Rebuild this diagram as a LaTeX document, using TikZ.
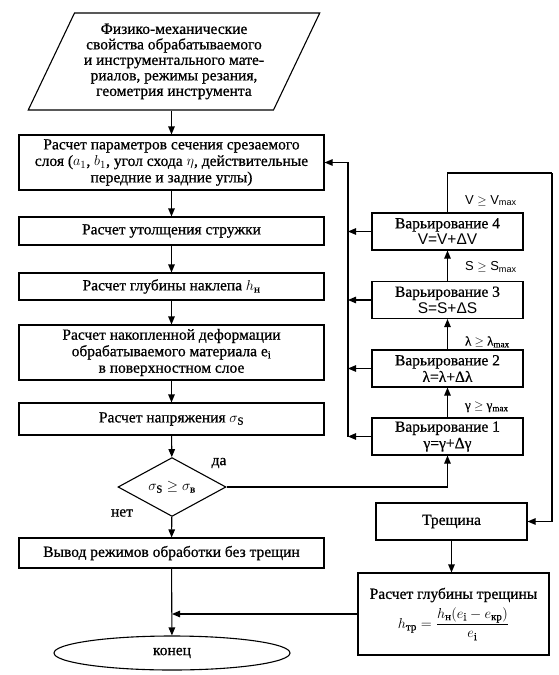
\documentclass[tikz,border=0pt]{standalone}
\usepackage{amsmath}
\usepackage{fontspec}
\setmainfont{Liberation Serif}[FakeBold=0.7]
\newfontfamily\sansf{Liberation Sans}
\usetikzlibrary{shapes.geometric,arrows.meta}

\tikzset{
  line/.style={line width=1.1pt},
  link/.style={line, -{Triangle[length=8pt,width=6.5pt]}},
  block/.style={draw, line, minimum width=305pt, align=center, inner sep=1pt},
  varbox/.style={draw, line, minimum width=151pt, minimum height=37pt, align=center, inner sep=1pt},
  cond/.style={font=\rmfamily\fontsize{13}{14}\selectfont, inner sep=0pt}
}

\begin{document}
\begin{tikzpicture}[x=1pt,y=-1pt,font=\rmfamily\fontsize{15.5}{16.5}\selectfont]
\useasboundingbox (0,0) rectangle (558,675);

% main column
\node (input) [draw, line, trapezium, trapezium left angle=61, trapezium right angle=119,
  trapezium stretches=true, minimum width=292pt, minimum height=97pt, align=center, inner sep=0pt,
  font=\rmfamily\fontsize{15.5}{15.5}\selectfont]
  at (174,61.5) {Физико-механические\\свойства обрабатываемого\\и инструментального мате-\\риалов, режимы резания,\\геометрия инструмента};
\node (cut) [block, minimum height=55pt] at (171.5,162.5)
  {Расчет параметров сечения срезаемого\\слоя ($a_1$, $b_1$, угол схода $\eta$, действительные\\передние и задние углы)};
\node (chip) [block, minimum height=28pt] at (171.5,231) {Расчет утолщения стружки};
\node (hard) [block, minimum height=27pt] at (171.5,286.5) {Расчет глубины наклепа $h_{\text{н}}$};
\node (strain) [block, minimum height=55pt] at (171.5,352.5)
  {Расчет накопленной деформации\\обрабатываемого материала e\textsubscript{i}\\в поверхностном слое};
\node (stress) [block, minimum height=32pt] at (171.5,419) {Расчет напряжения $\sigma_{\mathrm{S}}$};
\node (check) [draw, line, diamond, minimum width=108pt, minimum height=55pt, inner sep=0pt]
  at (172,487) {$\sigma_{\mathrm{S}}\geq\sigma_{\text{в}}$};
\node (out) [block, minimum height=30pt] at (171.5,553) {Вывод режимов обработки без трещин};
\node (stop) [draw, line, ellipse, minimum width=236pt, minimum height=34pt] at (172,653) {конец};

% variation column
\node (var4) [varbox] at (447.5,231.5) {Варьирование 4\\{\sansf V=V+ΔV}};
\node (var3) [varbox] at (447.5,300) {Варьирование 3\\{\sansf S=S+ΔS}};
\node (var2) [varbox] at (447.5,368.5) {Варьирование 2\\λ=λ+Δλ};
\node (var1) [varbox] at (447.5,436.5) {Варьирование 1\\γ=γ+Δγ};
\node (crack) [varbox] at (451.5,521.5) {Трещина};
\node (depth) [draw, line, minimum width=191pt, minimum height=82pt, align=center, inner sep=1pt] at (453.5,614)
  {Расчет глубины трещины\\[4pt]$h_{\text{тр}}=\dfrac{h_{\text{н}}(e_{\mathrm{i}}-e_{\text{кр}})}{e_{\mathrm{i}}}$};

\coordinate (fb) at (348,0);
\coordinate (loop) at (552,173);

% connectors
\draw [link] (cut.north |- input.south) -- (cut.north);
\draw [link] (cut) -- (chip);
\draw [link] (chip) -- (hard);
\draw [link] (hard) -- (strain);
\draw [link] (strain) -- (stress);
\draw [link] (stress) -- (check);
\draw [link] (check) -- (out);
\draw [link] (out) -- (stop);
\draw [link] (check.east) -- (var1.south |- check.east) -- (var1.south);
\node (yes) at (219,463) {да};
\node (no) at (122,513) {нет};

\draw [link] (var1) -- node[cond, right=17pt, pos=.35] {γ $\geq$ γ\textsubscript{max}} (var2);
\draw [link] (var2) -- node[cond, right=17pt, pos=.25] {λ $\geq$ λ\textsubscript{max}} (var3);
\draw [link] (var3) -- node[cond, right=17pt, pos=.45] {\sansf S $\geq$ S\textsubscript{max}} (var4);
\draw [line] (var4.north) -- node[cond, right=17pt, pos=.3] {\sansf V $\geq$ V\textsubscript{max}} (var4.north |- loop) -- (loop);
\draw [link] (loop) -- (crack.east -| loop) -- (crack.east);
\draw [link] (crack.south) -- (crack.south |- depth.north);
\draw [link] (depth.west) -- (depth.west -| stop.north);

\foreach \v in {var1,var2,var3,var4}
  \draw [link] (\v.west) -- (\v.west -| fb);
\draw [link] (var1.west -| fb) -- (cut.east -| fb) -- (cut.east);
\end{tikzpicture}
\end{document}
